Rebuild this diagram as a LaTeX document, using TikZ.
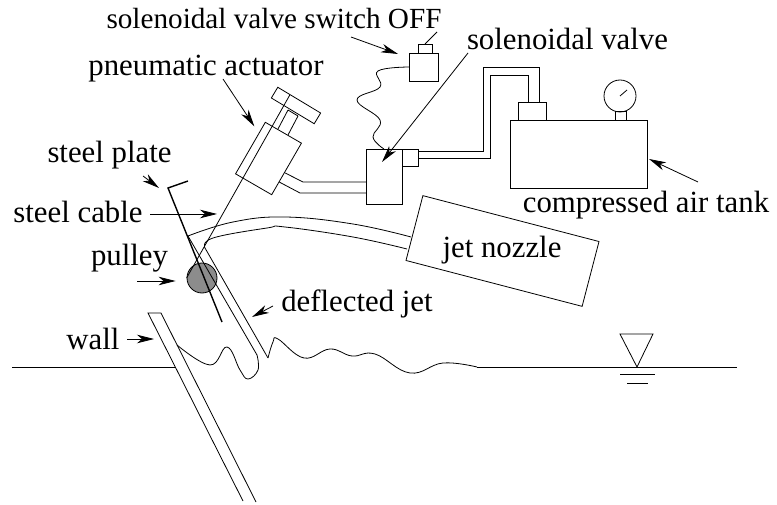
\documentclass[tikz,border=0pt]{standalone}
\usepackage{fontspec}
\setmainfont{Liberation Serif}
\usetikzlibrary{arrows.meta}

\begin{document}
\begin{tikzpicture}[
    x=1pt,y=-1pt,
    line width=0.8pt,
    partbox/.style={draw,rectangle,inner sep=0pt,outer sep=0pt},
    lbl/.style={anchor=base,inner sep=0pt,outer sep=0pt,font=\fontsize{30.8}{36}\selectfont},
    callout/.style={-{Stealth[length=17pt,width=8.5pt,inset=5pt]}},
    curvy/.style={smooth,tension=0.7}
  ]
  \useasboundingbox (0,0) rectangle (777,505);

  % Labels
  \node[lbl,font=\fontsize{29.2}{36}\selectfont] (switchlbl) at (274,29) {solenoidal valve switch OFF};
  \node[lbl] (valvelbl) at (567.5,50) {solenoidal valve};
  \node[lbl] (actlbl) at (206,76) {pneumatic actuator};
  \node[lbl] (platelbl) at (109.5,163) {steel plate};
  \node[lbl] (cablelbl) at (78,223) {steel cable};
  \node[lbl] (pulleylbl) at (129.5,266) {pulley};
  \node[lbl] (walllbl) at (93,349) {wall};
  \node[lbl] (jetlbl) at (357,312) {deflected jet};
  \node[lbl] (nozzlelbl) at (502,258) {jet nozzle};
  \node[lbl] (tanklbl) at (646,213) {compressed air tank};

  % Tank and gauge
  \node[partbox,minimum width=137pt,minimum height=68pt] (tank) at (578.5,154) {};
  \node[partbox,minimum width=28pt,minimum height=18pt] (tankcap) at (532,111) {};
  \node[partbox,minimum width=11pt,minimum height=9pt] (neck) at (620.5,115.5) {};
  \node[draw,circle,inner sep=0pt,minimum size=32pt] (gauge) at (620,96) {};
  \draw (gauge.center) -- ++(7,-6);

  % Solenoidal valve and its switch
  \node[partbox,minimum width=36pt,minimum height=55pt] (valve) at (384,176.5) {};
  \node[partbox,minimum width=16pt,minimum height=17pt] (port) at (410,157.5) {};
  \node[partbox,minimum width=29pt,minimum height=28pt] (switchbox) at (423.5,67) {};
  \node[partbox,minimum width=14pt,minimum height=9pt] (switchtop) at (425,48.5) {};
  \draw (switchtop.north) -- ++(12,-12);
  \draw plot[curvy] coordinates {(switchbox.west) (378,71) (380,87) (357,100) (380,120) (373,137) (valve.north)};

  % Air lines
  \draw ([yshift=6.5pt]port.east) -- (483,151) -- (483,67) -- (539,67) -- ([xshift=7pt]tankcap.north);
  \draw ([yshift=-0.5pt]port.east) -- (490,158) -- (490,75) -- (528,75) -- ([xshift=-4pt]tankcap.north);

  % Pneumatic actuator
  \node[partbox,rotate=-30,minimum width=41.7pt,minimum height=59.5pt] (act) at (268.5,158.5) {};
  \node[partbox,rotate=-31,minimum width=50pt,minimum height=12.5pt] (handle) at (296,105.5) {};
  \draw (288,110) -- (278,129) (298,116) -- (288,135) (288,110) -- (298,116);
  \draw ([xshift=-1.5pt,yshift=-4pt]act.east) -- (303,182) -- ([yshift=-5.5pt]valve.west);
  \draw ([xshift=-7.5pt,yshift=-13pt]act.east) -- (300,193) -- ([yshift=-16.5pt]valve.west);

  % Nozzle and jet
  \node[partbox,rotate=-14.6,minimum width=182pt,minimum height=67pt] (nozzle) at (502.5,251) {};
  \draw plot[curvy] coordinates {(188,236) (233,222) (285,217) (353,224) (411,237)};
  \draw plot[curvy] coordinates {(205,248) (213,238) (267,228) (285,227) (353,237) (407,249)};
  \draw (205,248) -- (268,358);

  % Pulley, cable, plate
  \node[draw,circle,fill=black!45,inner sep=0pt,minimum size=30pt] (pulley) at (202,278) {};
  \draw ([xshift=-9.5pt,yshift=5pt]handle.north) -- (pulley.west);
  \draw[line width=1.4pt] (188,181) -- (168,188) -- (222,322);

  % Wall and water
  \draw (243,501) -- (148,313) -- (161,313) -- (256,502);
  \draw (12,367) -- (175,367);
  \draw (188,236) -- (257,355);
  \draw plot[curvy] coordinates {(257,355) (258,370) (248,379) (240,370) (227,347) (210,365) (177,345)};
  \draw plot[curvy] coordinates {(268,358) (273,342) (278,339) (304,358) (330,349) (352,356) (375,354) (410,373) (443,363) (477,367)};
  \draw (477,367) -- (737,367);
  \draw (620,334) -- (653,334) -- (637,367) -- cycle;
  \draw (620,374) -- (655,374) (627,383) -- (648,383);

  % Free arrow ends
  \coordinate (cabletip) at (217,214);
  \coordinate (walltip) at (154,339);
  \coordinate (jettip) at (252,317);
  \coordinate (platetip) at (159,188);

  % Callouts
  \draw[callout] ([xshift=77pt,yshift=-8pt]switchlbl.base) -- ([xshift=-11pt,yshift=13pt]switchbox.west);
  \draw[callout] ([xshift=-99.5pt,yshift=-3pt]valvelbl.base) -- ([xshift=-2pt,yshift=14.5pt]valve.center);
  \draw[callout] ([xshift=17pt,yshift=-3pt]actlbl.base) -- ([xshift=-11pt,yshift=-4pt]act.north west);
  \draw[callout] ([xshift=33.5pt,yshift=-13pt]platelbl.base) -- (platetip);
  \draw[callout] ([xshift=72pt,yshift=9pt]cablelbl.base) -- (cabletip);
  \draw[callout] ([xshift=7.5pt,yshift=-15pt]pulleylbl.base) -- ([xshift=-11pt,yshift=-3pt]pulley.west);
  \draw[callout] ([xshift=34pt,yshift=10pt]walllbl.base) -- (walltip);
  \draw[callout] ([xshift=-84pt,yshift=6pt]jetlbl.base) -- (jettip);
  \draw[callout] ([xshift=52pt,yshift=31pt]tanklbl.base) -- ([xshift=2pt,yshift=-5pt]tank.east);
\end{tikzpicture}
\end{document}
